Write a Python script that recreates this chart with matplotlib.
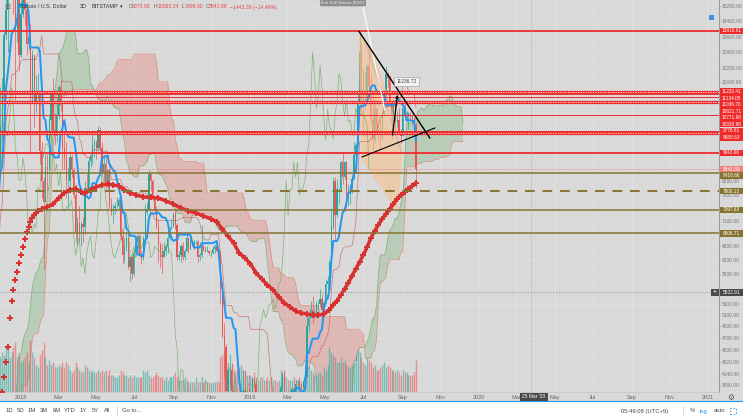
import numpy as np
import pandas as pd
import matplotlib
matplotlib.use("Agg")
import matplotlib.pyplot as plt
import matplotlib.dates as mdates
from matplotlib.patches import Rectangle, Polygon
from matplotlib.lines import Line2D
from matplotlib.ticker import FixedLocator, FuncFormatter, NullLocator
from matplotlib.transforms import blended_transform_factory

plt.rcParams['font.family'] = ['Liberation Sans', 'DejaVu Sans']

W, H = 743, 418

# BTC/USD 3D candles, last candle starts 2019-09-23.
# first 78 candles are history before the visible window (only used for the ichimoku)
pre_close = [
    1190, 1205, 1180, 1210, 1250, 1250, 1320, 1350, 1450, 1530,
    1720, 1800, 1780, 1850, 2050, 2300, 2100, 2300, 2480, 2550,
    2700, 2900, 2650, 2500, 2600, 2700, 2550, 2550, 2450, 2600,
    2550, 2350, 2350, 1950, 2650, 2800, 2550, 2700, 2850, 2750,
    3200, 3350, 4000, 4200, 4100, 4050, 4300, 4350, 4600, 4600,
    4600, 4250, 4150, 3300, 3700, 3900, 3700, 3900, 4150, 4400,
    4350, 4600, 4800, 5600, 5600, 5950, 5950, 5900, 6100, 6700,
    7400, 7100, 6600, 6500, 7800, 8000, 8200, 8700]
pre_high = [
    1215, 1225, 1215, 1230, 1280, 1270, 1340, 1375, 1480, 1610,
    1760, 1850, 1820, 1900, 2100, 2500, 2780, 2350, 2550, 2620,
    2900, 3000, 2990, 2600, 2750, 2800, 2650, 2600, 2550, 2650,
    2620, 2550, 2400, 2350, 2900, 2850, 2800, 2800, 2900, 2900,
    3300, 3450, 4200, 4450, 4300, 4150, 4400, 4400, 4750, 4950,
    4700, 4650, 4300, 4200, 4000, 4100, 3850, 4000, 4300, 4450,
    4450, 4700, 5200, 5800, 5750, 6100, 6050, 6000, 6300, 6900,
    7500, 7700, 7100, 6800, 8000, 8250, 8300, 9800]
pre_low = [
    1170, 1160, 1150, 1170, 1200, 1220, 1240, 1310, 1350, 1440,
    1520, 1650, 1650, 1700, 1850, 2050, 1900, 2050, 2280, 2450,
    2450, 2700, 2350, 2150, 2480, 2550, 2400, 2450, 2400, 2450,
    2450, 2300, 2150, 1850, 1950, 2600, 2450, 2500, 2650, 2650,
    2700, 3150, 3350, 3900, 3950, 3600, 4000, 4250, 4300, 4400,
    4300, 4100, 3950, 2950, 3300, 3650, 3550, 3700, 3900, 4150,
    4200, 4300, 4550, 4800, 5350, 5500, 5550, 5700, 5850, 6100,
    6700, 6900, 5500, 6100, 6500, 7700, 7900, 8200]

vis_close = [
    9900, 11200, 13700, 15000, 17200, 17600, 18900, 15500, 14000, 15700,
    12800, 14800, 17100, 15000, 13300, 13600, 11100, 12800, 10800, 11100,
    11200, 9100, 8200, 7600, 8600, 8500, 10150, 11200, 9800, 9600,
    10300, 11400, 10700, 9200, 8900, 8200, 8200, 8900, 8500, 7800,
    6850, 7050, 6800, 7030, 6950, 8000, 7900, 8800, 8950, 9300,
    9350, 9200, 9800, 9200, 8450, 8700, 8050, 8500, 7500, 7350,
    7450, 7500, 7500, 7650, 6750, 6300, 6500, 6700, 6050, 6250,
    5900, 6350, 6600, 6750, 6300, 6230, 6700, 7350, 7400, 8400,
    8200, 7700, 7400, 6950, 6550, 6300, 6250, 6400, 6500, 6700,
    6900, 6950, 7300, 7000, 6250, 6300, 6500, 6250, 6400, 6700,
    6450, 6600, 6550, 6600, 6600, 6250, 6300, 6500, 6450, 6400,
    6400, 6350, 6350, 6450, 6500, 6400, 6350, 5600, 4750, 4550,
    3900, 4200, 4200, 3900, 3400, 3450, 3300, 3250, 3700, 3900,
    3750, 3850, 3700, 3800, 4050, 4000, 3600, 3600, 3650, 3550,
    3580, 3530, 3450, 3500, 3450, 3650, 3600, 3580, 3650, 3950,
    4100, 3800, 3820, 3720, 3880, 3920, 3870, 4000, 4000, 3980,
    3950, 4020, 4100, 4900, 5050, 5200, 5050, 5150, 5300, 5300,
    5400, 5200, 5330, 5700, 5750, 6150, 6950, 8200, 7250, 7950,
    7950, 8750, 8300, 8750, 7800, 7950, 8000, 8250, 8980, 9300,
    10800, 12900, 12000, 10600, 11000, 12300, 11400, 10200, 9450, 10550,
    9900, 9800, 9500, 10400, 10800, 11950, 11800, 10800, 10300, 10900,
    10100, 10150, 9750, 9600, 10600, 10300, 10300, 10400, 10350, 10200,
    9973, 8541.89]
vis_high = [
    11400, 11800, 13900, 16600, 17500, 17900, 19666, 18900, 15900, 16500,
    15700, 15500, 17200, 17250, 15400, 14500, 14300, 13000, 12800, 11900,
    12000, 11300, 9400, 8300, 9000, 9000, 10300, 11200, 11800, 10400,
    11000, 11500, 11700, 10800, 9700, 9400, 8600, 9100, 9000, 8600,
    8100, 7200, 7500, 7100, 7200, 8200, 8400, 8900, 9000, 9750,
    9500, 9450, 9950, 9900, 9400, 8900, 8900, 8550, 8550, 7700,
    7550, 7600, 7750, 7750, 7700, 6900, 6700, 6850, 6800, 6250,
    6300, 6450, 6700, 6800, 6800, 6400, 6750, 7550, 7600, 8500,
    8450, 8250, 7750, 7500, 7150, 6600, 6550, 6600, 6550, 6900,
    6950, 7150, 7350, 7400, 7050, 6400, 6550, 6600, 6450, 6800,
    6700, 6700, 6650, 6650, 6650, 6650, 6350, 7000, 6550, 6500,
    6500, 6420, 6400, 6500, 6550, 6520, 6450, 6400, 5600, 4950,
    4600, 4300, 4450, 4300, 3900, 3600, 3500, 3300, 3900, 4200,
    4200, 3900, 3950, 3900, 4100, 4100, 4050, 3700, 3700, 3800,
    3620, 3600, 3550, 3520, 3500, 3700, 3680, 3650, 3680, 4000,
    4150, 4200, 3900, 3850, 3900, 3950, 3950, 4050, 4050, 4100,
    4000, 4050, 4150, 5100, 5100, 5350, 5450, 5200, 5350, 5350,
    5600, 5500, 5350, 5800, 5850, 6200, 7450, 8300, 8300, 8250,
    8000, 8800, 9050, 8800, 8800, 8100, 8100, 8350, 9400, 9350,
    11200, 13870, 13400, 12200, 12000, 12400, 13200, 11900, 11100, 10900,
    10650, 10000, 10200, 10450, 11100, 12300, 12050, 11900, 10800, 10950,
    10950, 10500, 10600, 9850, 10750, 10900, 10500, 10450, 10450, 10350,
    10250, 10093.24]
vis_low = [
    8600, 9400, 11000, 13500, 12900, 15600, 17200, 14800, 10900, 13400,
    12100, 12700, 14600, 14200, 12800, 13000, 9000, 10800, 9900, 10400,
    10900, 8700, 7700, 6000, 7600, 7900, 8500, 9800, 9700, 9300,
    9400, 10200, 10500, 8500, 8500, 7700, 7400, 8000, 8300, 7700,
    6600, 6500, 6600, 6500, 6600, 6800, 7800, 7850, 8600, 8700,
    8900, 8850, 9100, 9100, 8350, 8200, 7950, 7950, 7450, 7250,
    7050, 7300, 7450, 7400, 6650, 6100, 6150, 6400, 6000, 5750,
    5800, 5850, 6300, 6450, 6250, 6100, 6200, 6650, 7250, 7400,
    7900, 7650, 7300, 6900, 6150, 6050, 5900, 6250, 6300, 6350,
    6650, 6900, 6950, 6900, 6200, 6200, 6150, 6200, 6200, 6400,
    6350, 6450, 6500, 6450, 6550, 6150, 6200, 6250, 6400, 6380,
    6370, 6300, 6250, 6320, 6350, 6380, 6300, 5300, 4700, 4100,
    3550, 3700, 3950, 3800, 3300, 3350, 3250, 3150, 3250, 3650,
    3700, 3550, 3650, 3650, 3750, 3950, 3550, 3500, 3550, 3500,
    3480, 3500, 3350, 3400, 3370, 3380, 3580, 3550, 3580, 3650,
    3900, 3700, 3700, 3680, 3700, 3800, 3820, 3820, 3950, 3950,
    3930, 3950, 4000, 4100, 4800, 5050, 4950, 5050, 5050, 5200,
    5250, 4950, 5150, 5300, 5600, 5700, 6100, 6900, 6650, 7200,
    7550, 7900, 8100, 8250, 7450, 7500, 7550, 7850, 8250, 8950,
    9300, 10600, 10400, 9650, 10600, 10900, 11000, 10100, 9100, 9350,
    9800, 9450, 9150, 9450, 10300, 10800, 11400, 10750, 9500, 10100,
    9800, 9900, 9700, 9350, 9600, 10150, 10100, 9850, 10150, 10000,
    9650, 7998]
# volume, thousand BTC
vis_volume = [
    70, 80, 75, 95, 90, 70, 80, 90, 100, 70,
    75, 60, 65, 70, 80, 60, 105, 80, 70, 55,
    50, 75, 85, 100, 70, 55, 65, 55, 60, 50,
    50, 55, 50, 60, 50, 60, 55, 45, 40, 45,
    60, 50, 45, 40, 40, 55, 50, 45, 40, 45,
    40, 40, 45, 40, 45, 40, 45, 35, 45, 35,
    35, 30, 30, 35, 45, 40, 35, 35, 30, 35,
    30, 35, 30, 30, 30, 30, 45, 40, 45, 35,
    30, 30, 35, 40, 35, 30, 30, 25, 30, 25,
    30, 30, 35, 40, 30, 25, 25, 25, 30, 25,
    20, 20, 20, 20, 30, 20, 20, 30, 20, 20,
    20, 20, 18, 20, 20, 22, 20, 70, 75, 80,
    60, 50, 50, 55, 45, 40, 45, 50, 55, 45,
    40, 35, 35, 35, 30, 40, 30, 25, 30, 30,
    25, 25, 30, 25, 30, 25, 25, 20, 25, 45,
    40, 40, 30, 25, 25, 25, 30, 25, 25, 25,
    20, 25, 25, 55, 50, 45, 40, 35, 35, 40,
    40, 35, 50, 45, 55, 90, 80, 75, 70, 60,
    60, 70, 60, 65, 55, 50, 50, 55, 60, 75,
    85, 80, 70, 60, 55, 70, 65, 60, 50, 55,
    45, 45, 50, 55, 60, 50, 55, 50, 45, 45,
    40, 45, 40, 35, 45, 40, 40, 35, 35, 35,
    40, 65]

# 200-day moving average (the red "+" line), candle index -> value
ma_k = [1, 2, 3, 4, 5, 6, 7, 8, 9, 10, 11, 12, 13, 14, 15, 16, 17, 18,
        20, 22, 25, 28, 31, 34, 37, 40, 43, 45, 48, 51, 54, 57, 60, 63, 66, 69, 72,
        76, 80, 84, 88, 92, 96, 100, 104, 108, 112, 115,
        118, 121, 124, 127, 130, 133, 136, 139, 142, 145, 148, 151, 154, 157, 160, 163, 166, 169, 172, 175,
        177, 179, 181, 183, 185, 187, 189, 191, 193, 195, 197, 199, 201, 203, 205, 207, 209, 211, 213,
        215, 217, 219, 221]
ma_val = [3880, 4100, 4320, 4556, 5046, 5361, 5572, 5773, 5937, 6131, 6305, 6486, 6673, 6840, 6962, 7087, 7187, 7263,
          7367, 7420, 7472, 7550, 7713, 7851, 7934, 7962, 7880, 7851, 7934, 8018, 8075, 8103, 8075, 8046, 7934, 7851, 7795,
          7740, 7727, 7713, 7632, 7550, 7445, 7367, 7315, 7237, 7162, 7087,
          6913, 6743, 6580, 6351, 6240, 6110, 5917, 5793, 5671, 5572, 5437, 5323, 5248, 5174, 5136, 5118, 5100, 5100, 5118, 5192,
          5285, 5361, 5475, 5592, 5712, 5857, 6001, 6153, 6305, 6486, 6695, 6864, 7011, 7162, 7289, 7420, 7550, 7686, 7795,
          7880, 7962, 8046, 8131]

# horizontal levels
red_levels = [13916.61, 11232.41, 11134.05, 11036.70, 10821.71, 10771.98, 10338.96, 9776.61, 9688.63, 9043.66]
red_kind = ['solid', 'band', 'solid', 'thin', 'band', 'thin', 'thin', 'thin', 'band', 'solid']
olive_levels = [8418.66, 7900.13, 7397.63, 6806.71]
olive_kind = ['solid', 'dashed', 'solid', 'solid']
last_price = 8541.89
cross_price = 5522.91
cross_date = '2020-03-25'

# drawings
down_line_d = ['2019-06-24', '2019-10-15']
down_line_p = [13900, 9535]
up_line_d = ['2019-06-29', '2019-10-23']
up_line_p = [8915, 9877]
arrow_d = ['2019-08-16', '2019-08-25']
arrow_p = [9535, 11217]
fan_d = ['2019-06-24', '2019-07-15', '2019-08-09', '2019-09-02', '2019-08-25', '2019-06-28', '2019-06-24']
fan_p = [13866, 13104, 11099, 9138, 7341, 8821, 12560]
white_d = ['2019-06-28', '2019-08-04']
white_p = [15600, 10526]
dotted_d = ['2019-07-05', '2019-09-01']
dotted_p = [13300, 9000]
note_d = '2019-09-08'
note_p = 11660

price_ticks = [15200, 14400, 13600, 12900, 12200, 11600, 8200, 7800, 7100, 6500, 6200, 5900,
               5300, 5100, 4900, 4700, 4500, 4320, 4140, 3980]

# ---------------------------------------------------------------
closes = np.array(pre_close + vis_close, dtype=float)
highs = np.array(pre_high + vis_high, dtype=float)
lows = np.array(pre_low + vis_low, dtype=float)
opens = np.r_[closes[0], closes[:-1]]
dates = pd.date_range(end='2019-09-23', periods=len(closes), freq='3D')
x = mdates.date2num(dates.to_pydatetime())
nv = len(vis_close)
xv = x[-nv:]

hi = pd.Series(highs)
lo = pd.Series(lows)
tenkan = (hi.rolling(9).max() + lo.rolling(9).min()) / 2
kijun = (hi.rolling(26).max() + lo.rolling(26).min()) / 2
span_a = ((tenkan + kijun) / 2).values
span_b = ((hi.rolling(52).max() + lo.rolling(52).min()) / 2).values
shift = 25 * 3
x_lead = x + shift
x_lag = x - shift

up_col = '#26a69a'
dn_col = '#ef5350'
red = '#f02a2a'
olive = '#877330'
bg = '#d9d9d9'

fig = plt.figure(figsize=(W / 100, H / 100), dpi=100, facecolor=bg)
ax = fig.add_axes([0, 26 / H, 719 / W, 392 / H])
ax.set_facecolor(bg)

x0 = mdates.date2num(pd.Timestamp('2018-01-01').to_pydatetime())
ax.set_xlim(x0 - 21 / 0.627, x0 + (719 - 21) / 0.627)
ax.set_yscale('log')
ax.set_ylim(3885, 15526)

# cloud
ok = ~np.isnan(span_a) & ~np.isnan(span_b)
ax.fill_between(x_lead[ok], span_a[ok], span_b[ok], where=span_a[ok] >= span_b[ok],
                interpolate=True, color='#43a047', alpha=0.22, lw=0, zorder=1)
ax.fill_between(x_lead[ok], span_a[ok], span_b[ok], where=span_a[ok] < span_b[ok],
                interpolate=True, color='#f44336', alpha=0.22, lw=0, zorder=1)
ax.plot(x_lead, span_a, color='#6aaa5e', lw=0.5, alpha=0.8, zorder=1.5)
ax.plot(x_lead, span_b, color='#e08070', lw=0.5, alpha=0.8, zorder=1.5)

# volume
vtrans = blended_transform_factory(ax.transData, ax.transAxes)
vcol = [up_col if c >= o else dn_col for c, o in zip(closes[-nv:], opens[-nv:])]
ax.vlines(xv, 0, np.array(vis_volume) / 784, colors=vcol, lw=1.0, alpha=0.55,
          transform=vtrans, zorder=2)

# candles
ccol = [up_col if c >= o else dn_col for c, o in zip(closes, opens)]
ax.vlines(x, lows, highs, colors=ccol, lw=0.5, zorder=3)
ax.bar(x, np.maximum(np.abs(closes - opens), 1), bottom=np.minimum(opens, closes),
       width=2.0, color=ccol, lw=0, zorder=3)

# ichimoku lines
ax.plot(x_lag, closes, color='#5aa54e', lw=0.5, alpha=0.7, zorder=3.5)
ax.plot(x, kijun, color='#c0504a', lw=0.5, alpha=0.7, zorder=3.5)
ax.plot(x, tenkan, color='#2196f3', lw=1.4, zorder=4)

# moving average
ma_x = xv[np.array(ma_k)]
ax.plot(ma_x[17:], ma_val[17:], color='#d93030', lw=2.5, zorder=5)
ax.plot(ma_x, ma_val, ls='none', marker='+', ms=4.2, mew=1.4, color='#d93030', zorder=5)

# levels
for v, kind in zip(red_levels, red_kind):
    if kind == 'solid':
        ax.axhline(v, color=red, lw=1.3, zorder=6)
    elif kind == 'thin':
        ax.axhline(v, color=red, lw=0.7, zorder=6)
    else:
        ax.axhline(v, color=red, lw=2.3, zorder=6)
        ax.axhline(v, color='white', lw=0.6, dashes=(1.5, 1.5), zorder=6.1)
for v, kind in zip(olive_levels, olive_kind):
    if kind == 'dashed':
        ax.axhline(v, color=olive, lw=1.4, dashes=(5, 4), zorder=6)
    else:
        ax.axhline(v, color=olive, lw=1.1, zorder=6)
ax.axhline(last_price, color='#ef7070', lw=0.5, dashes=(1, 1), zorder=6)
ax.axhline(cross_price, color='#888888', lw=0.5, dashes=(2, 2), zorder=6)
ax.axvline(mdates.datestr2num(cross_date), color='#999999', lw=0.4, dashes=(2, 2), zorder=6)

# drawings
fan_x = mdates.datestr2num(fan_d)
ax.add_patch(Polygon(np.c_[fan_x, fan_p], closed=True, color='#f7c48e', alpha=0.6, lw=0, zorder=3.2))
ax.plot(mdates.datestr2num(white_d), white_p, color='white', lw=0.8, zorder=7)
ax.plot(mdates.datestr2num(dotted_d), dotted_p, color='#9a7fcf', lw=0.6, dashes=(1, 1.5), zorder=7)
ax.plot(mdates.datestr2num(down_line_d), down_line_p, color='black', lw=1.0, zorder=7)
ax.plot(mdates.datestr2num(up_line_d), up_line_p, color='black', lw=0.8, zorder=7)
ad = mdates.datestr2num(arrow_d)
ax.annotate('', xy=(ad[1], arrow_p[1]), xytext=(ad[0], arrow_p[0]),
            arrowprops=dict(arrowstyle='-|>', color='black', lw=0.9, mutation_scale=4), zorder=7)
ax.text(mdates.datestr2num(note_d), note_p, '11236.72', fontsize=3.6, color='#444', ha='center', va='center',
        bbox=dict(boxstyle='square,pad=0.4', fc='#f2f2f2', ec='#999', lw=0.4), zorder=8)

# axes styling
month_ticks = pd.date_range('2018-01-01', '2021-01-01', freq='2MS')
ax.xaxis.set_major_locator(FixedLocator(mdates.date2num(month_ticks.to_pydatetime())))
ax.xaxis.set_major_formatter(FuncFormatter(
    lambda v, p: mdates.num2date(v).strftime('%Y') if mdates.num2date(v).month == 1
    else mdates.num2date(v).strftime('%b')))
ax.yaxis.set_major_locator(FixedLocator(price_ticks))
ax.yaxis.set_minor_locator(NullLocator())
ax.yaxis.set_major_formatter(FuncFormatter(lambda v, p: '%.2f' % v))
ax.yaxis.tick_right()
ax.tick_params(axis='y', labelsize=3.5, colors='#777777', length=1, width=0.4, pad=0.8)
ax.tick_params(axis='x', labelsize=4.0, colors='#666666', length=0, pad=2.2)
ax.grid(True, color='#e3e3e3', lw=0.5)
ax.set_axisbelow(True)
for s in ['top', 'left']:
    ax.spines[s].set_visible(False)
ax.spines['right'].set_color('#9a9a9a')
ax.spines['right'].set_linewidth(0.7)
ax.spines['bottom'].set_color('#c4c4c4')
ax.spines['bottom'].set_linewidth(0.5)


def fx(px):
    return px / W


def fy(py):
    return 1 - py / H


# price labels on the right axis
labels = [(v, red) for v in red_levels] + [(last_price, '#ef8080')] + \
         [(v, olive) for v in olive_levels] + [(cross_price, '#4a4a4a')]
labels.sort(key=lambda t: -t[0])
prev = -100
for v, col in labels:
    py = H - ax.transData.transform((xv[0], v))[1]
    if py < prev + 6.5:
        py = prev + 6.5
    prev = py
    fig.add_artist(Rectangle((fx(719.5), fy(py + 3.2)), fx(23.5), 6.4 / H, transform=fig.transFigure,
                             color=col, lw=0, zorder=10))
    fig.text(fx(731.2), fy(py), '%.2f' % v, fontsize=3.4, color='white', ha='center', va='center', zorder=11)
    if v == cross_price:
        fig.add_artist(Rectangle((fx(711), fy(py + 3.2)), fx(8), 6.4 / H, transform=fig.transFigure,
                                 color=col, lw=0, zorder=10))
        fig.text(fx(715), fy(py), '+', fontsize=5, color='white', ha='center', va='center', zorder=11)

# small blue button near the top of the price scale
fig.add_artist(Rectangle((fx(709), fy(20)), fx(5), 5 / H, transform=fig.transFigure,
                         color='#4a90e2', lw=0, zorder=10))

# header
fig.text(fx(4), fy(7), '\u229e', fontsize=5, color='#666', va='center', family='DejaVu Sans')
fig.text(fx(20), fy(7), 'Bitcoin / U.S. Dollar', fontsize=3.9, color='#333', va='center')
fig.text(fx(80), fy(7), '3D', fontsize=3.9, color='#333', va='center')
fig.text(fx(92), fy(7), 'BITSTAMP', fontsize=3.9, color='#333', va='center')
fig.text(fx(120), fy(7), '\u25be', fontsize=3.9, color='#333', va='center', family='DejaVu Sans')
for px, letter, val in [(129, 'O', '9973.00'), (154, 'H', '10093.24'), (182, 'L', '7998.00'), (206, 'C', '8541.89')]:
    fig.text(fx(px), fy(7), letter, fontsize=3.7, color='#555', va='center')
    fig.text(fx(px + 3.2), fy(7), val, fontsize=3.7, color='#e84545', va='center')
fig.text(fx(230), fy(7), '\u22121443.39 (\u221214.46%)', fontsize=3.7, color='#e84545', va='center')
fig.text(fx(343), fy(3), 'Exit Full Screen (ESC)', fontsize=3.2, color='#f4f4f4', ha='center', va='center',
         bbox=dict(boxstyle='round,pad=0.3', fc='#8e8e8e', ec='none'))

# time axis crosshair label and gear
fig.text(fx(534), fy(397), "25 Mar '20", fontsize=3.5, color='white', ha='center', va='center',
         bbox=dict(boxstyle='square,pad=0.4', fc='#4a4a4a', ec='none'), zorder=11)
fig.text(fx(731), fy(397), '\u2699', fontsize=5.5, color='#555', ha='center', va='center', family='DejaVu Sans')

# bottom toolbar
fig.add_artist(Rectangle((0, 0), 1, fy(401.5), transform=fig.transFigure, color='white', lw=0, zorder=0))
fig.add_artist(Line2D([0, 1], [fy(401.2), fy(401.2)], transform=fig.transFigure, color='#2196f3', lw=0.8))
for px, t in [(9, '1D'), (21, '5D'), (32, '1M'), (44, '3M'), (57, '6M'), (70, 'YTD'), (83, '1Y'),
              (95, '5Y'), (107, 'All'), (132, 'Go to...')]:
    fig.text(fx(px), fy(411), t, fontsize=4.2, color='#444', ha='center', va='center')
fig.add_artist(Line2D([fx(117), fx(117)], [fy(406), fy(416)], transform=fig.transFigure, color='#ccc', lw=0.5))
fig.add_artist(Line2D([fx(683), fx(683)], [fy(406), fy(416)], transform=fig.transFigure, color='#ccc', lw=0.5))
fig.text(fx(645), fy(411), '05:49:08 (UTC+9)', fontsize=4.2, color='#444', ha='center', va='center')
fig.text(fx(692), fy(411), '%', fontsize=4.2, color='#444', ha='center', va='center')
fig.text(fx(704), fy(411), 'log', fontsize=4.2, color='#2196f3', ha='center', va='center')
fig.text(fx(719), fy(411), 'auto', fontsize=4.2, color='#444', ha='center', va='center')
fig.add_artist(Rectangle((fx(730), fy(414)), fx(6), 6 / H, transform=fig.transFigure,
                         fill=False, ec='#2196f3', lw=0.6, ls=(0, (2, 2))))

fig.savefig('out.png', dpi=100, facecolor=fig.get_facecolor())
